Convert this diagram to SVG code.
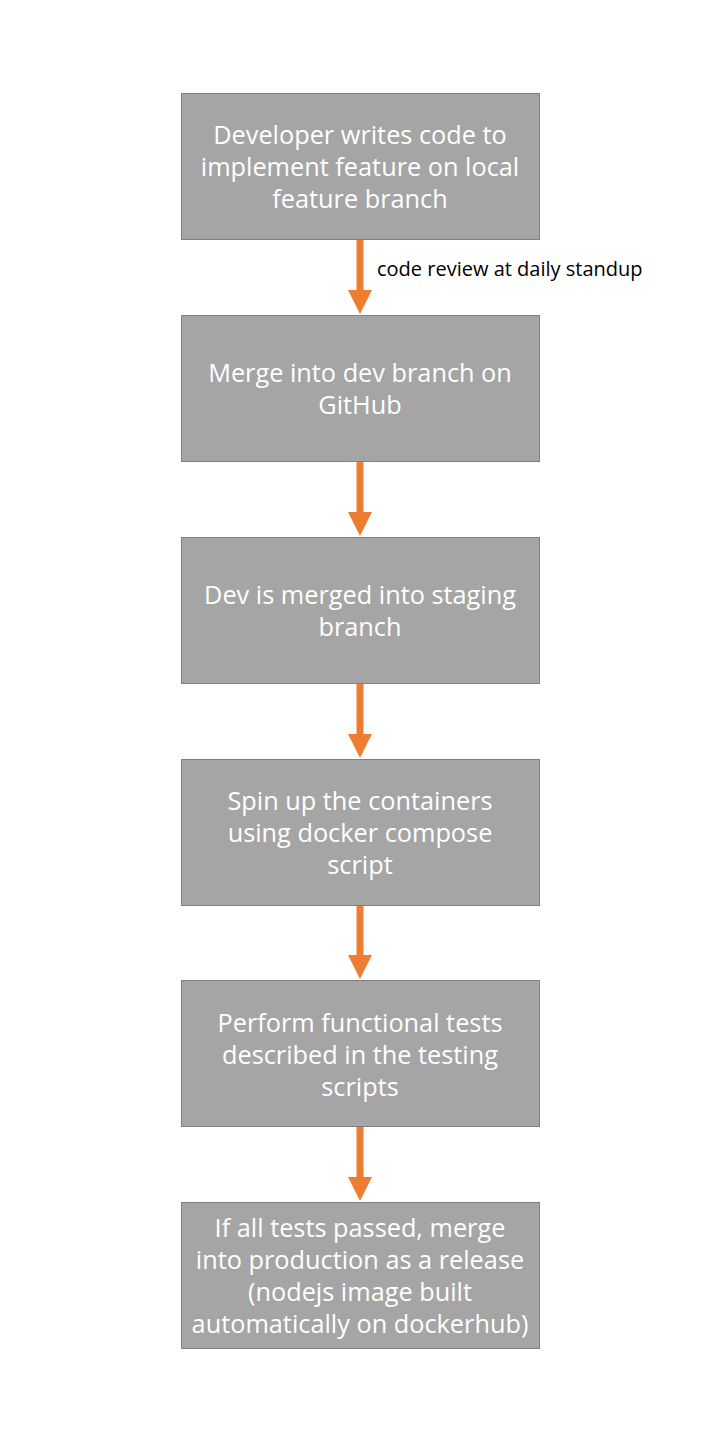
<svg xmlns="http://www.w3.org/2000/svg" width="720" height="1440" viewBox="0 0 720 1440">
<style>
.box{fill:#a5a5a5;stroke:#7f7f7f;stroke-width:1}
.t{font-family:"Open Sans","Noto Sans",sans-serif;font-size:25.3px;fill:#ffffff;text-anchor:middle}
.lbl{font-family:"Open Sans","Noto Sans",sans-serif;font-size:20px;fill:#000000}
.shaft{stroke:#ed7d31;stroke-width:7}
.head{fill:#ed7d31}
</style>
<rect width="720" height="1440" fill="#ffffff"/>
<g id="connectors">
<line class="shaft" x1="360" y1="239" x2="360" y2="292"/><polygon class="head" points="348,290 372,290 360,314"/>
<line class="shaft" x1="360" y1="461" x2="360" y2="514"/><polygon class="head" points="348,512 372,512 360,536"/>
<line class="shaft" x1="360" y1="683" x2="360" y2="736"/><polygon class="head" points="348,734 372,734 360,758"/>
<line class="shaft" x1="360" y1="905" x2="360" y2="957"/><polygon class="head" points="348,955 372,955 360,979"/>
<line class="shaft" x1="360" y1="1127" x2="360" y2="1179"/><polygon class="head" points="348,1177 372,1177 360,1201"/>
<text class="lbl" x="377" y="276">code review at daily standup</text>
</g>
<g id="n1"><rect class="box" x="181.5" y="93.5" width="358" height="146"/>
<text class="t" x="360" y="144">Developer writes code to</text>
<text class="t" x="360" y="176">implement feature on local</text>
<text class="t" x="360" y="208">feature branch</text></g>
<g id="n2"><rect class="box" x="181.5" y="315.5" width="358" height="146"/>
<text class="t" x="360" y="382">Merge into dev branch on</text>
<text class="t" x="360" y="414">GitHub</text></g>
<g id="n3"><rect class="box" x="181.5" y="537.5" width="358" height="146"/>
<text class="t" x="360" y="604">Dev is merged into staging</text>
<text class="t" x="360" y="636">branch</text></g>
<g id="n4"><rect class="box" x="181.5" y="759.5" width="358" height="146"/>
<text class="t" x="360" y="810">Spin up the containers</text>
<text class="t" x="360" y="842">using docker compose</text>
<text class="t" x="360" y="874">script</text></g>
<g id="n5"><rect class="box" x="181.5" y="980.5" width="358" height="146"/>
<text class="t" x="360" y="1032">Perform functional tests</text>
<text class="t" x="360" y="1064">described in the testing</text>
<text class="t" x="360" y="1096">scripts</text></g>
<g id="n6"><rect class="box" x="181.5" y="1202.5" width="358" height="146"/>
<text class="t" x="360" y="1237">If all tests passed, merge</text>
<text class="t" x="360" y="1269">into production as a release</text>
<text class="t" x="360" y="1301">(nodejs image built</text>
<text class="t" x="360" y="1333">automatically on dockerhub)</text></g>
</svg>
